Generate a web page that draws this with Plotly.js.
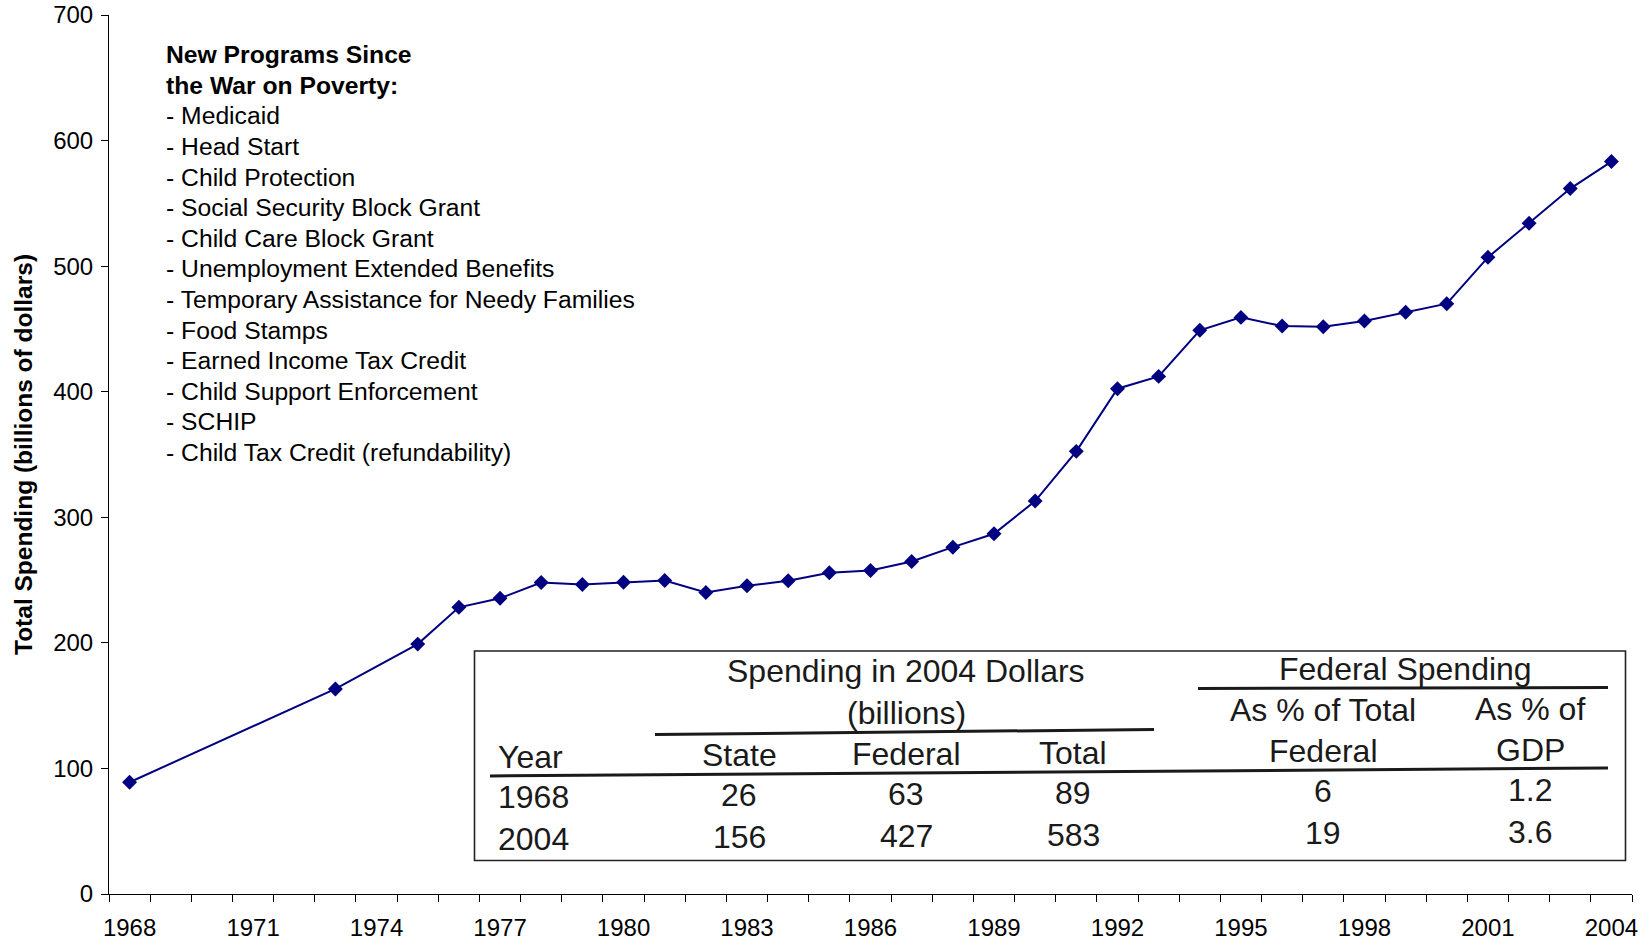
<!DOCTYPE html>
<html>
<head>
<meta charset="utf-8">
<script src="https://cdn.plot.ly/plotly-3.0.1.min.js"></script>
<style>
  html, body { margin: 0; padding: 0; background: #fff; }
  #chart { width: 1650px; height: 945px; }
</style>
</head>
<body>
<div id="chart"></div>
<script>
// ---------- DATA ----------
const years = [1968, 1973, 1975, 1976, 1977, 1978, 1979, 1980, 1981, 1982, 1983, 1984,
               1985, 1986, 1987, 1988, 1989, 1990, 1991, 1992, 1993, 1994, 1995, 1996,
               1997, 1998, 1999, 2000, 2001, 2002, 2003, 2004];
const totalSpending = [89, 163.3, 199, 228.3, 235.5, 248.1, 246.5, 248.3, 249.7, 240.1, 245.4, 249.4,
                       255.8, 257.6, 264.8, 276.2, 286.9, 312.9, 352.5, 402.4, 412.2, 448.9, 459.2, 452.3,
                       451.8, 456.3, 463.2, 470.1, 507.0, 534.1, 561.8, 583.3];
const xTickYears = [1968, 1971, 1974, 1977, 1980, 1983, 1986, 1989, 1992, 1995, 1998, 2001, 2004];

const programsHeading = ['New Programs Since', 'the War on Poverty:'];
const programs = ['Medicaid', 'Head Start', 'Child Protection', 'Social Security Block Grant',
  'Child Care Block Grant', 'Unemployment Extended Benefits',
  'Temporary Assistance for Needy Families', 'Food Stamps', 'Earned Income Tax Credit',
  'Child Support Enforcement', 'SCHIP', 'Child Tax Credit (refundability)'];

const tableGroupHeaders = ['Spending in 2004 Dollars', '(billions)', 'Federal Spending'];
const tableSubHeaders2 = ['As % of Total', 'As % of'];
const tableColumns = ['Year', 'State', 'Federal', 'Total', 'Federal', 'GDP'];
const tableYears = ['1968', '2004'];
const stateSpend = ['26', '156'];
const federalSpend = ['63', '427'];
const totalSpend = ['89', '583'];
const fedPctTotal = ['6', '19'];
const fedPctGDP = ['1.2', '3.6'];

// ---------- LAYOUT HELPERS ----------
const W = 1650, H = 945;
const M = { l: 109, r: 18, t: 15, b: 51 };
const PW = W - M.l - M.r, PH = H - M.t - M.b;
const px = x => (x - M.l) / PW;
const py = y => (H - M.b - y) / PH;

const FONT = 'Liberation Sans, Arial, Helvetica, sans-serif';
const annotations = [];
const shapes = [];

// Program list (upper left)
const listLines = programsHeading.map(t => '<b>' + t + '</b>').concat(programs.map(t => '- ' + t));
listLines.forEach((t, i) => {
  annotations.push({
    xref: 'paper', yref: 'paper', x: px(164), y: py(54.7 + i * 30.6),
    xanchor: 'left', yanchor: 'middle', showarrow: false, text: t,
    font: { family: FONT, size: 24.7, color: '#000' }
  });
});

// Table
const TCOL = '#1a1a1a';
const TFS = 32;
const skew = -0.0063;
const ty = (x, base) => base + skew * (x - 498);
function cell(text, x, base, anchor) {
  annotations.push({
    xref: 'paper', yref: 'paper', x: px(x), y: py(ty(x, base) + 1),
    xanchor: anchor || 'center', yanchor: 'middle', showarrow: false, text: text,
    font: { family: FONT, size: TFS, color: TCOL }
  });
}
const colX = [496, 739, 906, 1073, 1323, 1530];
const rowBase = [672.5, 714.5, 755.5, 795.5, 837.6];

cell(tableGroupHeaders[0], 906, rowBase[0]);
cell(tableGroupHeaders[1], 906, rowBase[1]);
cell(tableGroupHeaders[2], 1405, rowBase[0] + 1);
cell(tableSubHeaders2[0], colX[4], rowBase[1]);
cell(tableSubHeaders2[1], colX[5], rowBase[1]);
tableColumns.forEach((t, i) => cell(t, colX[i], rowBase[2], i === 0 ? 'left' : 'center'));
const tableCols = [tableYears, stateSpend, federalSpend, totalSpend, fedPctTotal, fedPctGDP];
[0, 1].forEach(r => {
  tableCols.forEach((col, c) => cell(col[r], colX[c], rowBase[3 + r], c === 0 ? 'left' : 'center'));
});

function line(x0, y0, x1, y1, w) {
  shapes.push({ type: 'line', xref: 'paper', yref: 'paper',
    x0: px(x0), y0: py(y0), x1: px(x1), y1: py(y1),
    line: { color: TCOL, width: w } });
}
shapes.push({ type: 'rect', xref: 'paper', yref: 'paper',
  x0: px(474.5), x1: px(1625.5), y0: py(651), y1: py(860.5),
  line: { color: '#222', width: 1.6 }, fillcolor: 'rgba(0,0,0,0)' });
line(655, 734.5, 1154, 729.5, 3);
line(1198, 688.5, 1608, 687.5, 3);
line(490, 776, 1608, 768, 3);

// ---------- PLOT ----------
const trace = {
  x: years, y: totalSpending, type: 'scatter', mode: 'lines+markers',
  line: { color: '#000080', width: 2 },
  marker: { symbol: 'diamond', size: 11.5, color: '#000080' },
  hoverinfo: 'x+y'
};

const layout = {
  width: W, height: H,
  margin: M,
  paper_bgcolor: '#fff', plot_bgcolor: '#fff',
  showlegend: false,
  font: { family: FONT, color: '#000' },
  xaxis: {
    range: [1967.5, 2004.5], autorange: false,
    tickmode: 'array', tickvals: xTickYears, ticktext: xTickYears.map(String),
    ticks: 'outside', ticklen: 7, tickcolor: 'rgba(0,0,0,0)',
    minor: { tickmode: 'linear', tick0: 1967.5, dtick: 1, ticks: 'outside', ticklen: 7, tickcolor: '#000', tickwidth: 1, showgrid: false },
    tickfont: { family: FONT, size: 24, color: '#000' },
    ticklabelstandoff: 5,
    showline: true, linecolor: '#000', linewidth: 1,
    showgrid: false, zeroline: false, fixedrange: true
  },
  yaxis: {
    range: [0, 700], autorange: false,
    tickmode: 'linear', tick0: 0, dtick: 100,
    ticks: 'outside', ticklen: 7, tickcolor: '#000', tickwidth: 1,
    tickfont: { family: FONT, size: 24, color: '#000' },
    ticklabelstandoff: 3,
    showline: true, linecolor: '#000', linewidth: 1,
    showgrid: false, zeroline: false, fixedrange: true,
    title: { text: '<b>Total Spending (billions of dollars)</b>', font: { family: FONT, size: 24.5, color: '#000' }, standoff: 13 }
  },
  annotations: annotations,
  shapes: shapes
};

Plotly.newPlot('chart', [trace], layout, { displayModeBar: false, staticPlot: false });
</script>
</body>
</html>
